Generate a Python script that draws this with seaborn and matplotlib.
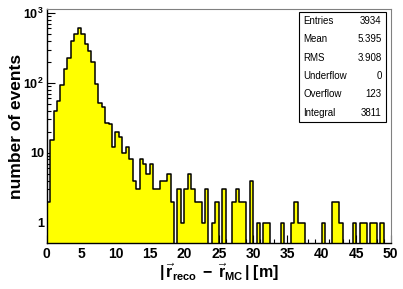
import numpy as np
import pandas as pd
import matplotlib
matplotlib.use("Agg")
import matplotlib.pyplot as plt
import seaborn as sns
from matplotlib.patches import Rectangle
from matplotlib.ticker import MultipleLocator, LogLocator, NullFormatter

# histogram of |r_reco - r_MC|, 100 bins of 0.5 m between 0 and 50
n_bins = 100
x_range = (0, 50)
counts = [2, 15, 40, 55, 94, 160, 228, 395, 500, 610,
          500, 365, 290, 197, 95, 52, 45, 27, 26, 12,
          20, 17, 10, 12, 8, 4, 3, 8, 7, 5,
          7, 3, 3, 4, 4, 5, 2, 0, 3, 1,
          3, 5, 3, 2, 2, 1, 3, 0, 1, 2,
          0, 3, 0, 0, 2, 3, 2, 2, 0, 4,
          0, 1, 0, 1, 1, 0, 0, 0, 1, 0,
          0, 1, 2, 1, 1, 0, 0, 0, 0, 0,
          1, 0, 0, 2, 2, 1, 0, 0, 0, 1,
          0, 1, 1, 0, 1, 1, 0, 1, 0, 0]

stat_names = ["Entries", "Mean", "RMS", "Underflow", "Overflow", "Integral"]
stat_values = ["3934", "5.395", "3.908", "0", "123", "3811"]

x_ticks = [0, 5, 10, 15, 20, 25, 30, 35, 40, 45, 50]
y_ticks = [1, 10, 100, 1000]
y_tick_labels = ["1", "10", r"$\mathbf{10^{2}}$", r"$\mathbf{10^{3}}$"]

sns.set_theme(style="white")
plt.rcParams["font.family"] = ["Liberation Sans", "DejaVu Sans"]
plt.rcParams["mathtext.fontset"] = "custom"
plt.rcParams["mathtext.rm"] = "Liberation Sans"
plt.rcParams["mathtext.bf"] = "Liberation Sans:bold"
plt.rcParams["mathtext.it"] = "Liberation Sans:italic"
plt.rcParams["text.color"] = "black"
plt.rcParams["axes.labelcolor"] = "black"

W, H = 403, 289
fig = plt.figure(figsize=(W / 100, H / 100), dpi=100)
ax = fig.add_axes([46.7 / W, 1 - 243 / H, 344 / W, 234 / H])

width = (x_range[1] - x_range[0]) / n_bins
centers = [x_range[0] + (i + 0.5) * width for i in range(n_bins)]
df = pd.DataFrame({"dist": centers, "n": counts})
sns.histplot(data=df, x="dist", weights="n", bins=n_bins, binrange=x_range,
             element="step", fill=True, color="#ffff00", edgecolor="black",
             linewidth=1.1, alpha=1.0, ax=ax)

ax.set_yscale("log")
ax.set_xlim(0, 50)
ax.set_ylim(0.51, 1140)

# ROOT style ticks
ax.set_xticks(x_ticks)
ax.set_xticklabels([str(t) for t in x_ticks], fontweight="bold")
ax.xaxis.set_minor_locator(MultipleLocator(1))
ax.set_yticks(y_ticks)
ax.set_yticklabels(y_tick_labels, fontweight="bold")
ax.yaxis.set_minor_locator(LogLocator(base=10, subs=np.arange(2, 10)))
ax.yaxis.set_minor_formatter(NullFormatter())
ax.tick_params(which="both", direction="in", top=False, right=False,
               bottom=True, left=True, colors="black", labelcolor="black")
ax.tick_params(which="major", length=6, width=0.8, pad=3)
ax.tick_params(axis="x", which="major", labelsize=10)
ax.tick_params(axis="y", which="major", labelsize=9, pad=2)
ax.tick_params(which="minor", length=3, width=0.8)

for side in ["left", "bottom"]:
    ax.spines[side].set_color("black")
    ax.spines[side].set_linewidth(1.0)
for side in ["top", "right"]:
    ax.spines[side].set_color("#808080")
    ax.spines[side].set_linewidth(0.8)

ax.set_ylabel("number of events", fontsize=12.5, fontweight="bold",
              ha="center", va="center")
ax.yaxis.set_label_coords(-0.088, 0.5)
ax.set_xlabel(r"$\mathbf{|\,\vec{r}_{reco}\;-\;\vec{r}_{MC}\,|\;[m]}$",
              fontsize=11.5, va="center")
ax.xaxis.set_label_coords(0.5, -0.125)

# stats box
bl, br, bt, bb = 299.3 / W, 385.7 / W, 1 - 12 / H, 1 - 122 / H
fig.patches.append(Rectangle((bl, bb), br - bl, bt - bb, transform=fig.transFigure,
                             facecolor="white", edgecolor="black", linewidth=0.8,
                             zorder=5))
for i, (name, val) in enumerate(zip(stat_names, stat_values)):
    yy = 1 - (21 + i * 18.3) / H
    fig.text(303.3 / W, yy, name, fontsize=7, ha="left", va="center", zorder=7)
    fig.text(381.7 / W, yy, val, fontsize=7, ha="right", va="center", zorder=7)

plt.savefig("out.png", dpi=100)
plt.close()
